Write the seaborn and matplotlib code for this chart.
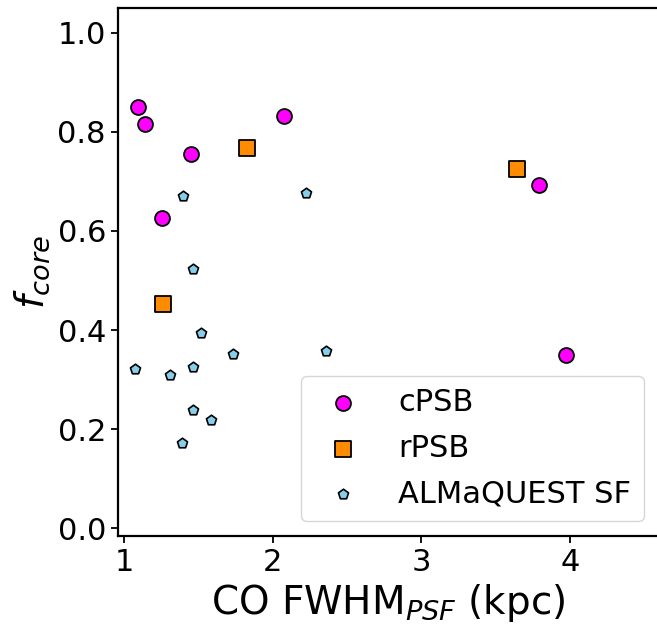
import matplotlib
matplotlib.use("Agg")
import matplotlib.pyplot as plt
import seaborn as sns
import pandas as pd

# cPSB
cpsb_x = [1.091, 1.141, 1.452, 2.074, 3.789, 1.254, 3.974]
cpsb_y = [0.851, 0.815, 0.756, 0.832, 0.692, 0.626, 0.349]
# rPSB
rpsb_x = [1.825, 3.641, 1.263]
rpsb_y = [0.768, 0.726, 0.453]
# ALMaQUEST SF
sf_x = [1.397, 2.222, 1.462, 1.519, 1.734, 2.359, 1.074, 1.306, 1.462, 1.462, 1.586, 1.390]
sf_y = [0.670, 0.677, 0.524, 0.394, 0.351, 0.357, 0.321, 0.309, 0.326, 0.239, 0.218, 0.172]

labels = ["cPSB", "rPSB", "ALMaQUEST SF"]
x_ticks = [1, 2, 3, 4]
y_ticks = [0.0, 0.2, 0.4, 0.6, 0.8, 1.0]

sns.set_style("ticks")
plt.rcParams['font.family'] = ['DejaVu Sans']
plt.rcParams['mathtext.fontset'] = 'dejavusans'
for k in ["text.color", "axes.labelcolor", "xtick.color", "ytick.color", "axes.edgecolor"]:
    plt.rcParams[k] = "black"

W, H = 657, 627
fig = plt.figure(figsize=(W / 100, H / 100), dpi=100)
left, right, top, bottom = 117.7, 659.0, 7.5, 536.0
ax = fig.add_axes([left / W, (H - bottom) / H, (right - left) / W, (bottom - top) / H])

d1 = pd.DataFrame({"x": cpsb_x, "y": cpsb_y})
d2 = pd.DataFrame({"x": rpsb_x, "y": rpsb_y})
d3 = pd.DataFrame({"x": sf_x, "y": sf_y})

sns.scatterplot(data=d1, x="x", y="y", ax=ax, marker="o", s=115, color="#FF00FF",
                edgecolor="black", linewidth=1.3, label=labels[0], zorder=3)
sns.scatterplot(data=d2, x="x", y="y", ax=ax, marker="s", s=125, color="#FF8C00",
                edgecolor="black", linewidth=1.3, label=labels[1], zorder=3)
sns.scatterplot(data=d3, x="x", y="y", ax=ax, marker="p", s=58, color="#87CEEB",
                edgecolor="black", linewidth=1.2, label=labels[2], zorder=3)

ax.set_xlim(0.956, 4.6)
ax.set_ylim(-0.0155, 1.051)
ax.set_xticks(x_ticks)
ax.set_xticklabels([str(t) for t in x_ticks])
ax.set_yticks(y_ticks)
ax.set_yticklabels([f"{t:.1f}" for t in y_ticks])
ax.tick_params(axis="both", labelsize=22, length=5, width=1.3, direction="out", colors="black")
for sp in ax.spines.values():
    sp.set_linewidth(1.6)
    sp.set_color("black")
    sp.set_visible(True)

ax.set_xlabel("CO FWHM$_{PSF}$ (kpc)", fontsize=28)
ax.set_ylabel("$f_{core}$", fontsize=28)

leg = ax.legend(loc="lower right", fontsize=22, frameon=True, framealpha=0.8,
                edgecolor="#cccccc", fancybox=True, labelspacing=0.55)

fig.savefig("out.png", dpi=100)
